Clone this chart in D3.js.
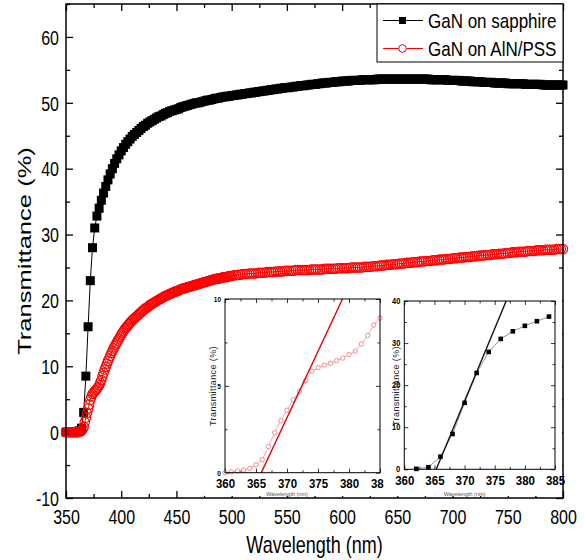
<!DOCTYPE html>
<html>
<head>
<meta charset="utf-8">
<script src="https://cdn.jsdelivr.net/npm/d3@7"></script>
<style>
  body { margin: 0; background: #fff; }
</style>
</head>
<body>
<div id="chart-area"></div>
<script>
// ---- datos ----
const wavelengths = d3.range(350, 801, 2); // nm, paso 2 (GaN on sapphire)

const sapphire = [
  0, 0, 0, 0, 0, 0.1, 0.2, 0.6, 3.0, 8.5,
  16.0, 23.0, 28.0, 31.0, 32.8, 34.0, 35.2, 36.3, 37.3, 38.3,
  39.2, 40.0, 40.8, 41.5, 42.1, 42.7, 43.2, 43.7, 44.1, 44.5,
  44.9, 45.2, 45.5, 45.8, 46.1, 46.4, 46.6, 46.9, 47.1, 47.3,
  47.5, 47.7, 47.9, 48.0, 48.2, 48.4, 48.5, 48.7, 48.8, 48.9,
  49.0, 49.1, 49.3, 49.4, 49.5, 49.6, 49.7, 49.8, 49.9, 50.0,
  50.0, 50.1, 50.2, 50.3, 50.4, 50.4, 50.5, 50.6, 50.7, 50.7,
  50.8, 50.9, 50.9, 51.0, 51.0, 51.1, 51.1, 51.2, 51.2, 51.3,
  51.3, 51.4, 51.4, 51.5, 51.5, 51.6, 51.6, 51.7, 51.7, 51.8,
  51.8, 51.9, 51.9, 52.0, 52.0, 52.1, 52.1, 52.2, 52.2, 52.3,
  52.3, 52.3, 52.4, 52.4, 52.5, 52.5, 52.6, 52.6, 52.6, 52.7,
  52.7, 52.8, 52.8, 52.8, 52.9, 52.9, 53.0, 53.0, 53.0, 53.1,
  53.1, 53.1, 53.2, 53.2, 53.2, 53.3, 53.3, 53.3, 53.3, 53.4,
  53.4, 53.4, 53.4, 53.4, 53.5, 53.5, 53.5, 53.5, 53.5, 53.5,
  53.5, 53.6, 53.6, 53.6, 53.6, 53.6, 53.6, 53.6, 53.6, 53.6,
  53.6, 53.6, 53.6, 53.6, 53.6, 53.6, 53.6, 53.6, 53.6, 53.6,
  53.6, 53.6, 53.6, 53.6, 53.6, 53.5, 53.5, 53.5, 53.5, 53.5,
  53.5, 53.5, 53.5, 53.4, 53.4, 53.4, 53.4, 53.4, 53.4, 53.3,
  53.3, 53.3, 53.3, 53.3, 53.2, 53.2, 53.2, 53.2, 53.2, 53.1,
  53.1, 53.1, 53.1, 53.1, 53.0, 53.0, 53.0, 53.0, 53.0, 53.0,
  52.9, 52.9, 52.9, 52.9, 52.9, 52.9, 52.9, 52.9, 52.8, 52.8,
  52.8, 52.8, 52.8, 52.8, 52.8, 52.8, 52.7, 52.7, 52.7, 52.7,
  52.7, 52.7, 52.7, 52.7, 52.7, 52.7
];

// GaN on AlN/PSS: paso 1 nm hasta 499, luego paso 2 nm
const wavelengthsRed = d3.range(350, 500, 1).concat(d3.range(500, 801, 2));
const alnPss = [
  0, 0, 0, 0, 0, 0, 0, 0, 0, 0,
  0, 0, 0.05, 0.1, 0.2, 0.45, 0.8, 1.5, 2.2, 2.9,
  3.6, 4.2, 4.9, 5.4, 5.8, 6.0, 6.2, 6.4, 6.6, 6.8,
  7.1, 7.5, 7.9, 8.5, 9.0, 9.5, 9.9, 10.4, 10.8, 11.2,
  11.6, 12.0, 12.3, 12.7, 13.0, 13.3, 13.6, 13.9, 14.2, 14.5,
  14.8, 15.1, 15.3, 15.6, 15.8, 16.0, 16.2, 16.4, 16.6, 16.8,
  17.0, 17.15, 17.3, 17.45, 17.6, 17.75, 17.9, 18.05, 18.2, 18.35,
  18.5, 18.65, 18.8, 18.9, 19.0, 19.15, 19.3, 19.4, 19.5, 19.6,
  19.7, 19.8, 19.9, 20.0, 20.1, 20.2, 20.3, 20.4, 20.5, 20.6,
  20.7, 20.75, 20.8, 20.9, 21.0, 21.05, 21.1, 21.2, 21.3, 21.35,
  21.4, 21.45, 21.5, 21.6, 21.7, 21.75, 21.8, 21.85, 21.9, 21.95,
  22.0, 22.05, 22.1, 22.15, 22.2, 22.25, 22.3, 22.35, 22.4, 22.45,
  22.5, 22.55, 22.6, 22.65, 22.7, 22.75, 22.8, 22.85, 22.9, 22.95,
  23.0, 23.05, 23.1, 23.15, 23.2, 23.25, 23.3, 23.3, 23.3, 23.35,
  23.4, 23.45, 23.5, 23.5, 23.5, 23.55, 23.6, 23.65, 23.7, 23.7,
  // desde 500 nm, paso 2
  23.7, 23.8, 23.8, 23.9, 23.9,
  24.0, 24.0, 24.0, 24.1, 24.1, 24.1, 24.1, 24.2, 24.2, 24.2,
  24.2, 24.3, 24.3, 24.3, 24.3, 24.4, 24.4, 24.4, 24.4, 24.5,
  24.5, 24.5, 24.5, 24.5, 24.6, 24.6, 24.6, 24.6, 24.6, 24.6,
  24.6, 24.7, 24.7, 24.7, 24.7, 24.7, 24.7, 24.8, 24.8, 24.8,
  24.8, 24.8, 24.8, 24.9, 24.9, 24.9, 24.9, 24.9, 24.9, 25.0,
  25.0, 25.0, 25.0, 25.0, 25.0, 25.1, 25.1, 25.1, 25.1, 25.2,
  25.2, 25.2, 25.3, 25.3, 25.3, 25.4, 25.4, 25.4, 25.5, 25.5,
  25.5, 25.6, 25.6, 25.6, 25.7, 25.7, 25.7, 25.8, 25.8, 25.8,
  25.9, 25.9, 25.9, 26.0, 26.0, 26.0, 26.1, 26.1, 26.1, 26.2,
  26.2, 26.2, 26.3, 26.3, 26.3, 26.4, 26.4, 26.4, 26.5, 26.5,
  26.5, 26.6, 26.6, 26.6, 26.7, 26.7, 26.7, 26.8, 26.8, 26.8,
  26.9, 26.9, 26.9, 27.0, 27.0, 27.0, 27.1, 27.1, 27.1, 27.2,
  27.2, 27.2, 27.3, 27.3, 27.3, 27.4, 27.4, 27.4, 27.4, 27.5,
  27.5, 27.5, 27.5, 27.6, 27.6, 27.6, 27.6, 27.7, 27.7, 27.7,
  27.7, 27.7, 27.8, 27.8, 27.8, 27.8
];

// inset 1 (GaN on AlN/PSS, paso 1 nm)
const insetRedNm = d3.range(360, 386, 1);
const insetRed = [
  0, 0.05, 0.1, 0.15, 0.25, 0.45, 0.75, 1.5, 2.3, 3.0,
  3.6, 4.2, 4.7, 5.3, 5.85, 6.05, 6.2, 6.3, 6.45, 6.6,
  6.8, 7.0, 7.4, 7.9, 8.5, 8.9
];
const insetRedFit = [[365.85, 0], [378.95, 10]];

// inset 2 (GaN on sapphire)
const insetBlackNm = [362, 364, 366, 368, 370, 372, 374, 376, 378, 380, 382, 384];
const insetBlack = [0.1, 0.5, 3.0, 8.4, 15.8, 22.9, 27.9, 31.0, 32.8, 34.1, 35.2, 36.3];
const insetBlackFit = [[365.3, 0], [376.9, 40]];

const legendLabels = ["GaN on sapphire", "GaN on AlN/PSS"];
const xTicks = d3.range(350, 801, 50);
const xMinorTicks = d3.range(375, 800, 50);
const yTicks = d3.range(-10, 61, 10);
const yMinorTicks = d3.range(-5, 66, 10);
const insetXTicks = d3.range(360, 386, 5);
const insetXMinor = d3.range(362.5, 385, 5);

const W = 584, H = 560;
const FONT = "Liberation Sans, Arial, sans-serif";
const NARROW = "Liberation Sans Narrow, Arial Narrow, Liberation Sans, sans-serif";
const STRETCH = 1.3; // la figura original esta estirada en vertical

const svg = d3.select("#chart-area")
  .append("svg")
  .attr("width", W)
  .attr("height", H);

// Escalas
const x = d3.scaleLinear().domain([350, 800]).range([66, 563]);
const y = d3.scaleLinear().domain([-10, 65]).range([498, 4]);

const fmt = d => String(d);

// ejes con marcas hacia adentro en los 4 lados
function frame(g, xs, ys, o) {
  const [xl, xr] = xs.range();
  const [yb, yt] = ys.range();
  const put = (axis, tx, ty) => g.append("g")
    .attr("transform", `translate(${tx},${ty})`)
    .call(axis)
    .call(a => a.select(".domain").remove())
    .call(a => a.selectAll("line").attr("stroke", "#000").attr("stroke-width", o.tw));

  put(d3.axisBottom(xs).tickValues(o.xMinor).tickSize(-o.minor).tickFormat(""), 0, yb);
  put(d3.axisTop(xs).tickValues(o.xMinor).tickSize(-o.minor).tickFormat(""), 0, yt);
  put(d3.axisLeft(ys).tickValues(o.yMinor).tickSize(-o.minor).tickFormat(""), xl, 0);
  put(d3.axisRight(ys).tickValues(o.yMinor).tickSize(-o.minor).tickFormat(""), xr, 0);

  put(d3.axisBottom(xs).tickValues(o.xMajor).tickSize(-o.major).tickFormat(fmt), 0, yb)
    .attr("font-family", o.fontX).attr("font-size", o.sizeX).attr("font-weight", o.weight)
    .selectAll("text")
    .attr("fill", "#000")
    .attr("y", 0).attr("dy", null)
    .attr("dominant-baseline", "central")
    .attr("transform", `translate(0,${o.offX}) scale(1,${o.k})`);
  put(d3.axisTop(xs).tickValues(o.xMajor).tickSize(-o.major).tickFormat(""), 0, yt);
  put(d3.axisLeft(ys).tickValues(o.yMajor).tickSize(-o.major).tickPadding(o.padY).tickFormat(fmt), xl, 0)
    .attr("font-family", o.fontY).attr("font-size", o.sizeY).attr("font-weight", o.weight)
    .selectAll("text")
    .attr("fill", "#000")
    .attr("dy", null)
    .attr("dominant-baseline", "central")
    .attr("transform", `scale(1,${o.k})`);
  put(d3.axisRight(ys).tickValues(o.yMajor).tickSize(-o.major).tickFormat(""), xr, 0);
}

function border(g, xs, ys, sw) {
  const [xl, xr] = xs.range();
  const [yb, yt] = ys.range();
  g.append("rect")
    .attr("x", xl).attr("y", yt)
    .attr("width", xr - xl).attr("height", yb - yt)
    .attr("fill", "none").attr("stroke", "#000").attr("stroke-width", sw);
}

// ---- grafico principal ----
const main = svg.append("g");
frame(main, x, y, {
  xMajor: xTicks, xMinor: xMinorTicks, yMajor: yTicks, yMinor: yMinorTicks,
  major: 7, minor: 4, tw: 1.3, offX: 19, padY: 7, k: STRETCH,
  fontX: FONT, fontY: FONT, sizeX: 16, sizeY: 16, weight: "normal"
});

const sapphirePts = wavelengths.map((w, i) => ({ w: w, v: sapphire[i] }));
const alnPts = wavelengthsRed.map((w, i) => ({ w: w, v: alnPss[i] }));

const line = d3.line().x(d => x(d.w)).y(d => y(d.v));

main.append("path")
  .datum(sapphirePts)
  .attr("d", line)
  .attr("fill", "none").attr("stroke", "#000").attr("stroke-width", 1);

main.selectAll("rect.sq")
  .data(sapphirePts)
  .enter()
  .append("rect")
  .attr("class", "sq")
  .attr("x", d => x(d.w) - 4.5)
  .attr("y", d => y(d.v) - 4.5)
  .attr("width", 9).attr("height", 9)
  .attr("fill", "#000");

main.append("path")
  .datum(alnPts)
  .attr("d", line)
  .attr("fill", "none").attr("stroke", "#ff0000").attr("stroke-width", 1);

main.selectAll("circle.ci")
  .data(alnPts)
  .enter()
  .append("circle")
  .attr("class", "ci")
  .attr("cx", d => x(d.w))
  .attr("cy", d => y(d.v))
  .attr("r", 4.7)
  .attr("fill", "none")
  .attr("stroke", "#ff0000")
  .attr("stroke-width", 1.1);

// ---- inset 1 ----
const x1 = d3.scaleLinear().domain([360, 385]).range([225, 380]);
const y1 = d3.scaleLinear().domain([0, 10]).range([472.7, 299]);
const in1 = svg.append("g");
in1.append("rect").attr("x", 204).attr("y", 292).attr("width", 180).attr("height", 204).attr("fill", "#fff");
frame(in1, x1, y1, {
  xMajor: insetXTicks, xMinor: insetXMinor, yMajor: [0, 5, 10], yMinor: [2.5, 7.5],
  major: 4, minor: 2.5, tw: 0.8, offX: 11, padY: 4, k: 1.1,
  fontX: NARROW, fontY: NARROW, sizeX: 11.5, sizeY: 6.5, weight: "bold"
});
const in1Pts = insetRedNm.map((w, i) => ({ w: w, v: insetRed[i] }));
const line1 = d3.line().x(d => x1(d.w)).y(d => y1(d.v));
in1.append("path").datum(in1Pts).attr("d", line1)
  .attr("fill", "none").attr("stroke", "#f38080").attr("stroke-width", 0.7);
in1.selectAll("circle").data(in1Pts).enter().append("circle")
  .attr("cx", d => x1(d.w)).attr("cy", d => y1(d.v)).attr("r", 2.2)
  .attr("fill", "#fff").attr("stroke", "#f07070").attr("stroke-width", 0.8);
in1.append("path").datum(insetRedFit)
  .attr("d", d3.line().x(d => x1(d[0])).y(d => y1(d[1])))
  .attr("fill", "none").attr("stroke", "#e00000").attr("stroke-width", 1.4);
border(in1, x1, y1, 1);
in1.append("text")
  .attr("transform", "translate(213,386) rotate(-90)")
  .attr("text-anchor", "middle").attr("dominant-baseline", "central")
  .attr("font-family", FONT).attr("font-size", 9).attr("letter-spacing", 0.4)
  .attr("fill", "#222").text("Transmittance (%)");
in1.append("text")
  .attr("x", x1(370)).attr("y", 495.5)
  .attr("text-anchor", "middle")
  .attr("font-family", FONT).attr("font-size", 5.5).attr("fill", "#555")
  .text("Wavelength (nm)");

// ---- inset 2 ----
const x2 = d3.scaleLinear().domain([360, 385]).range([404.3, 555]);
const y2 = d3.scaleLinear().domain([0, 40]).range([469.3, 301]);
const in2 = svg.append("g");
in2.append("rect").attr("x", 384).attr("y", 292).attr("width", 178).attr("height", 204).attr("fill", "#fff");
frame(in2, x2, y2, {
  xMajor: insetXTicks, xMinor: insetXMinor, yMajor: [0, 10, 20, 30, 40], yMinor: [5, 15, 25, 35],
  major: 4, minor: 2.5, tw: 0.8, offX: 12, padY: 4, k: 1.1,
  fontX: NARROW, fontY: NARROW, sizeX: 11.5, sizeY: 7.5, weight: "bold"
});
const in2Pts = insetBlackNm.map((w, i) => ({ w: w, v: insetBlack[i] }));
const line2 = d3.line().x(d => x2(d.w)).y(d => y2(d.v));
in2.append("path").datum(in2Pts).attr("d", line2)
  .attr("fill", "none").attr("stroke", "#777").attr("stroke-width", 0.8);
in2.append("path").datum(insetBlackFit)
  .attr("d", d3.line().x(d => x2(d[0])).y(d => y2(d[1])))
  .attr("fill", "none").attr("stroke", "#111").attr("stroke-width", 1.4);
in2.selectAll("rect.p").data(in2Pts).enter().append("rect")
  .attr("class", "p")
  .attr("x", d => x2(d.w) - 2.3).attr("y", d => y2(d.v) - 2.3)
  .attr("width", 4.6).attr("height", 4.6).attr("fill", "#000");
border(in2, x2, y2, 1);
in2.append("text")
  .attr("transform", "translate(396,386) rotate(-90)")
  .attr("text-anchor", "middle").attr("dominant-baseline", "central")
  .attr("font-family", FONT).attr("font-size", 9).attr("letter-spacing", 0.4)
  .attr("fill", "#222").text("Transmittance (%)");
in2.append("text")
  .attr("x", x2(370)).attr("y", 495.5)
  .attr("text-anchor", "middle")
  .attr("font-family", FONT).attr("font-size", 5.5).attr("fill", "#555")
  .text("Wavelength (nm)");

// marco principal encima
border(svg, x, y, 1.5);

// ---- titulos ----
svg.append("text")
  .attr("transform", `translate(25,${(y.range()[0] + y.range()[1]) / 2}) rotate(-90) scale(1.42,1)`)
  .attr("text-anchor", "middle").attr("dominant-baseline", "central")
  .attr("font-family", FONT).attr("font-size", 18)
  .text("Transmittance (%)");
svg.append("text")
  .attr("transform", `translate(${(x.range()[0] + x.range()[1]) / 2},545) scale(1,${STRETCH})`)
  .attr("text-anchor", "middle").attr("dominant-baseline", "central")
  .attr("font-family", FONT).attr("font-size", 18)
  .text("Wavelength (nm)");

// ---- leyenda ----
const leg = svg.append("g");
leg.append("rect")
  .attr("x", 377).attr("y", 4).attr("width", 186).attr("height", 58)
  .attr("fill", "#fff").attr("stroke", "#000").attr("stroke-width", 1);
const legColors = ["#000", "#ff0000"];
const items = leg.selectAll("g.item")
  .data(legendLabels)
  .enter()
  .append("g")
  .attr("class", "item")
  .attr("transform", (d, i) => `translate(0,${20.5 + i * 28})`);
items.append("line")
  .attr("x1", 383).attr("x2", 423)
  .attr("stroke", (d, i) => legColors[i]).attr("stroke-width", 1);
items.filter((d, i) => i === 0).append("rect")
  .attr("x", 399).attr("y", -3.5).attr("width", 7).attr("height", 7).attr("fill", "#000");
items.filter((d, i) => i === 1).append("circle")
  .attr("cx", 402.5).attr("cy", 0).attr("r", 3.8)
  .attr("fill", "#fff").attr("stroke", "#ff0000").attr("stroke-width", 1);
items.append("text")
  .attr("x", 428).attr("y", 0)
  .attr("dominant-baseline", "central")
  .attr("transform", `scale(1,1.2)`)
  .attr("transform-origin", "0 0")
  .attr("font-family", FONT).attr("font-size", 17)
  .text(d => d);
</script>
</body>
</html>
